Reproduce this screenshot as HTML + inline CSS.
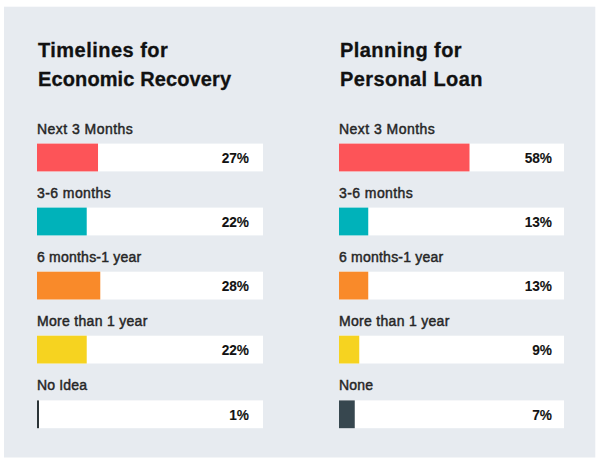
<!DOCTYPE html>
<html><head><meta charset="utf-8"><style>
html,body{margin:0;padding:0;width:600px;height:466px;overflow:hidden;background:#ffffff;}
body{position:relative;font-family:"Liberation Sans",sans-serif;}
svg{position:absolute;left:0;top:0;}
.t{position:absolute;font-size:20px;font-weight:bold;line-height:29px;color:#111;-webkit-text-stroke:0.3px #111;white-space:nowrap;}
.lab{position:absolute;font-size:14px;line-height:16px;color:#262626;-webkit-text-stroke:0.45px #262626;white-space:nowrap;}
.pct{position:absolute;width:100px;text-align:right;font-size:15.2px;letter-spacing:0px;transform:scaleX(0.9);transform-origin:100% 50%;font-weight:bold;line-height:18px;color:#121212;-webkit-text-stroke:0.1px #121212;}
</style></head><body>
<svg width="600" height="466" viewBox="0 0 600 466">
<rect x="4" y="6.7" width="591.3" height="450.8" fill="#e7ebf0"/>
<rect x="37" y="143.6" width="226" height="27.8" fill="#fff"/>
<rect x="37" y="143.6" width="61.02" height="27.8" fill="#fd5458"/>
<rect x="37" y="207.6" width="226" height="27.8" fill="#fff"/>
<rect x="37" y="207.6" width="49.72" height="27.8" fill="#00b2ba"/>
<rect x="37" y="271.7" width="226" height="27.8" fill="#fff"/>
<rect x="37" y="271.7" width="63.28" height="27.8" fill="#f98a2a"/>
<rect x="37" y="335.7" width="226" height="27.8" fill="#fff"/>
<rect x="37" y="335.7" width="49.72" height="27.8" fill="#f6d320"/>
<rect x="37" y="400.4" width="226" height="27.8" fill="#fff"/>
<rect x="37" y="400.4" width="2.00" height="27.8" fill="#2b3438"/>
<rect x="339" y="143.6" width="225" height="27.8" fill="#fff"/>
<rect x="339" y="143.6" width="130.50" height="27.8" fill="#fd5458"/>
<rect x="339" y="207.6" width="225" height="27.8" fill="#fff"/>
<rect x="339" y="207.6" width="29.25" height="27.8" fill="#00b2ba"/>
<rect x="339" y="271.7" width="225" height="27.8" fill="#fff"/>
<rect x="339" y="271.7" width="29.25" height="27.8" fill="#f98a2a"/>
<rect x="339" y="335.7" width="225" height="27.8" fill="#fff"/>
<rect x="339" y="335.7" width="20.25" height="27.8" fill="#f6d320"/>
<rect x="339" y="400.4" width="225" height="27.8" fill="#fff"/>
<rect x="339" y="400.4" width="15.75" height="27.8" fill="#37474f"/>
</svg>
<div class="t" style="left:38px;top:36px;letter-spacing:0.47px">Timelines for</div>
<div class="t" style="left:38px;top:65px;letter-spacing:0.12px">Economic Recovery</div>
<div class="lab" style="left:37px;top:121px;letter-spacing:0.46px">Next 3 Months</div>
<div class="pct" style="left:148.6px;top:148.5px">27%</div>
<div class="lab" style="left:37px;top:185px;letter-spacing:0.42px">3-6 months</div>
<div class="pct" style="left:148.6px;top:212.5px">22%</div>
<div class="lab" style="left:37px;top:249px;letter-spacing:0.22px">6 months-1 year</div>
<div class="pct" style="left:148.6px;top:276.5px">28%</div>
<div class="lab" style="left:37px;top:313px;letter-spacing:0.3px">More than 1 year</div>
<div class="pct" style="left:148.6px;top:340.5px">22%</div>
<div class="lab" style="left:37px;top:377px;letter-spacing:0.15px">No Idea</div>
<div class="pct" style="left:148.6px;top:405.5px">1%</div>
<div class="t" style="left:340px;top:36px;letter-spacing:0.45px">Planning for</div>
<div class="t" style="left:340px;top:65px;letter-spacing:0.38px">Personal Loan</div>
<div class="lab" style="left:339px;top:121px;letter-spacing:0.46px">Next 3 Months</div>
<div class="pct" style="left:451.5px;top:148.5px">58%</div>
<div class="lab" style="left:339px;top:185px;letter-spacing:0.42px">3-6 months</div>
<div class="pct" style="left:451.5px;top:212.5px">13%</div>
<div class="lab" style="left:339px;top:249px;letter-spacing:0.22px">6 months-1 year</div>
<div class="pct" style="left:451.5px;top:276.5px">13%</div>
<div class="lab" style="left:339px;top:313px;letter-spacing:0.3px">More than 1 year</div>
<div class="pct" style="left:451.5px;top:340.5px">9%</div>
<div class="lab" style="left:339px;top:377px;letter-spacing:0.2px">None</div>
<div class="pct" style="left:451.5px;top:405.5px">7%</div>
</body></html>
